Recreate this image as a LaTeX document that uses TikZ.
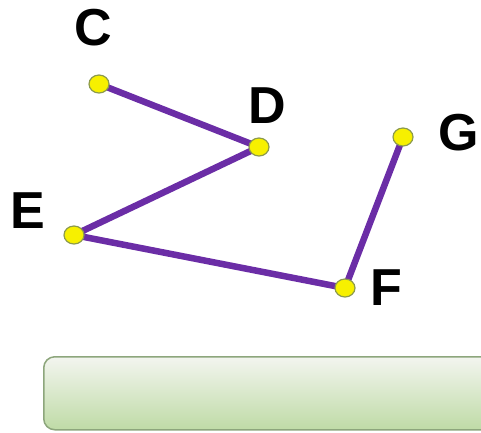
\documentclass[tikz,border=0pt]{standalone}
\usepackage{fontspec}
\setmainfont{Liberation Sans}
\usetikzlibrary{shapes.geometric}
\definecolor{lineviolet}{HTML}{6B2DA6}
\definecolor{dotyellow}{HTML}{F7F000}
\definecolor{dotrim}{HTML}{8C9A4C}
\definecolor{boxtop}{HTML}{F3F5EF}
\definecolor{boxbot}{HTML}{BFDBA6}
\definecolor{boxrim}{HTML}{8DA67C}
\pgfdeclarelayer{bg}
\pgfsetlayers{bg,main}
\begin{document}
\begin{tikzpicture}[x=1pt,y=-1pt,
  pt/.style={ellipse,minimum width=20pt,minimum height=18pt,inner sep=0pt,fill=dotyellow,draw=dotrim,line width=1.2pt},
  lbl/.style={anchor=base,font=\fontsize{52}{60}\selectfont\bfseries,inner sep=0pt},
  edge/.style={draw=lineviolet,line width=6.5pt}]
\useasboundingbox (0,0) rectangle (481,432);
\begin{scope}
\clip (0,0) rectangle (481,432);
\node[draw=boxrim,line width=1.5pt,rounded corners=11pt,top color=boxtop,bottom color=boxbot,
  minimum width=450pt,minimum height=73pt,anchor=north west,inner sep=0pt] (box) at (43,356) {};
\end{scope}
\node[pt] (C) at (99,84) {};
\node[pt] (D) at (259,147) {};
\node[pt] (E) at (74,235) {};
\node[pt] (F) at (345,288) {};
\node[pt] (G) at (403,137) {};
\begin{pgfonlayer}{bg}
\path[edge] (C.center) -- (D.center) -- (E.center) -- (F.center) -- (G.center);
\end{pgfonlayer}
\node[lbl] (lC) at (93.5,45) {C};
\node[lbl] (lD) at (267.5,123) {D};
\node[lbl] (lE) at (27.5,228) {E};
\node[lbl] (lF) at (386.5,305) {F};
\node[lbl] (lG) at (458.5,150) {G};
\end{tikzpicture}
\end{document}
